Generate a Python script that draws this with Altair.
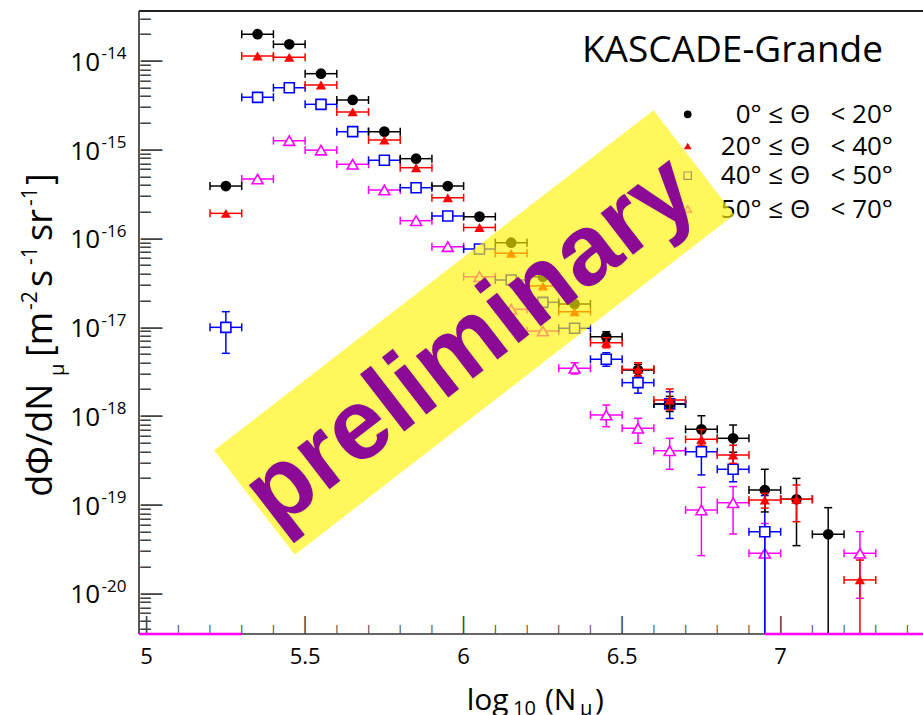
import math
import altair as alt
import pandas as pd

# ---------------- data ----------------
X_BINS = [5.25, 5.35, 5.45, 5.55, 5.65, 5.75, 5.85, 5.95, 6.05, 6.15, 6.25,
          6.35, 6.45, 6.55, 6.65, 6.75, 6.85, 6.95, 7.05, 7.15, 7.25]
HALF_BIN = 0.05

BLACK_Y = [3.98e-16, 2.04e-14, 1.57e-14, 7.33e-15, 3.71e-15, 1.63e-15, 8.09e-16,
           3.98e-16, 1.80e-16, 9.16e-17, 3.79e-17, 1.87e-17, 8.0e-18, 3.37e-18,
           1.40e-18, 7.24e-19, 5.74e-19, 1.50e-19, 1.18e-19, 4.76e-20, None]
BLACK_HI = [None] * 12 + [9.1e-18, 3.9e-18, 1.7e-18, 1.03e-18, 8.1e-19, 2.57e-19,
                          2.03e-19, 9.5e-20, None]
BLACK_LO = [None] * 12 + [7.0e-18, 2.9e-18, 1.15e-18, 5.1e-19, 4.0e-19, 8.5e-20,
                          3.55e-20, 1e-22, None]

RED_Y = [1.96e-16, 1.16e-14, 1.12e-14, 5.47e-15, 2.72e-15, 1.31e-15, 6.40e-16,
         2.94e-16, 1.36e-16, 6.95e-17, 2.98e-17, 1.53e-17, 6.85e-18, 3.43e-18,
         1.55e-18, 5.59e-19, 3.72e-19, 1.16e-19, 1.18e-19, None, 1.46e-20]
RED_HI = [None] * 12 + [7.8e-18, 4.07e-18, 2.06e-18, 7.2e-19, 4.8e-19, 1.38e-19,
                        1.71e-19, None, 2.44e-20]
RED_LO = [None] * 12 + [6.0e-18, 2.9e-18, 1.2e-18, 4.8e-19, 3.0e-19, 9.4e-20,
                        6.6e-20, None, 1e-22]

BLUE_Y = [1.02e-17, 3.97e-15, 5.09e-15, 3.31e-15, 1.63e-15, 7.76e-16, 3.81e-16,
          1.83e-16, 7.78e-17, 3.48e-17, 1.95e-17, 9.95e-18, 4.45e-18, 2.43e-18,
          1.40e-18, 4.05e-19, 2.57e-19, 5.09e-20, None, None, None]
BLUE_HI = [1.53e-17] + [None] * 11 + [5.28e-18, 3.1e-18, 1.92e-18, 7.1e-19, 3.72e-19,
                                      1.3e-19, None, None, None]
BLUE_LO = [5.2e-18] + [None] * 11 + [3.72e-18, 1.85e-18, 9.6e-19, 2.22e-19, 1.86e-19,
                                     1e-22, None, None, None]

MAGENTA_Y = [None, 4.77e-16, 1.29e-15, 1.01e-15, 7.00e-16, 3.59e-16, 1.62e-16,
             8.26e-17, 3.79e-17, 1.63e-17, 9.27e-18, 3.53e-18, 1.05e-18, 7.45e-19,
             4.16e-19, 8.95e-20, 1.08e-19, 2.91e-20, None, None, 2.91e-20]
MAGENTA_HI = [None] * 11 + [4.07e-18, 1.36e-18, 9.64e-19, 5.74e-19, 1.61e-19, 1.64e-19,
                            6.3e-20, None, None, 5.1e-20]
MAGENTA_LO = [None] * 11 + [3.04e-18, 7.76e-19, 5.05e-19, 2.57e-19, 2.74e-20, 4.8e-20,
                            1e-22, None, None, 9.06e-21]

# empty (zero) bins drawn along the lower frame
ZERO_START = [4.976, 6.95]
ZERO_END = [5.30, 7.449]

NB = "\u00a0"
SERIES = [
    # label, y, hi, lo, colour, shape, filled, size
    ("50°" + NB + "≤" + NB + "Θ" + NB * 3 + "<" + NB + "70°", MAGENTA_Y, MAGENTA_HI, MAGENTA_LO,
     "#ff00ff", "triangle-up", False, 120),
    ("40°" + NB + "≤" + NB + "Θ" + NB * 3 + "<" + NB + "50°", BLUE_Y, BLUE_HI, BLUE_LO,
     "#0000ff", "square", False, 100),
    ("0°" + NB + "≤" + NB + "Θ" + NB * 3 + "<" + NB + "20°", BLACK_Y, BLACK_HI, BLACK_LO,
     "#000000", "circle", True, 115),
    ("20°" + NB + "≤" + NB + "Θ" + NB * 3 + "<" + NB + "40°", RED_Y, RED_HI, RED_LO,
     "#ff0000", "triangle-up", True, 105),
]
LEGEND_ORDER = [2, 3, 1, 0]  # indices into SERIES, top to bottom

X_MAJOR = [5.0, 5.5, 6.0, 6.5, 7.0]
X_MAJOR_LABELS = ["5", "5.5", "6", "6.5", "7"]
X_MINOR = [round(5.0 + 0.1 * i, 1) for i in range(0, 25) if round(5.0 + 0.1 * i, 1) not in X_MAJOR]
Y_MAJOR_EXP = [-20, -19, -18, -17, -16, -15, -14]
Y_MINOR_ALL = [k * 10.0 ** e for e in range(-21, -13) for k in range(2, 10)]

# watermark band (centre line, in data coordinates)
BAND = {"x1": 5.3404, "y1": 10 ** -18.964, "x2": 6.7262, "y2": 10 ** -15.135}
WATERMARK_POS = {"x": 6.022, "y": 10 ** -17.16}

# ---------------- layout ----------------
W, H = 784, 623
X_MIN, X_MAX = 4.976, 7.449
Y_MIN, Y_MAX = 10 ** -20.445, 10 ** -13.429
Y_MINOR = [v for v in Y_MINOR_ALL if Y_MIN < v < Y_MAX]
FONT = "Open Sans"
TICK_FONT = "DejaVu Sans"

xs = alt.Scale(domain=[X_MIN, X_MAX], nice=False, zero=False)
ys = alt.Scale(type="log", domain=[Y_MIN, Y_MAX], nice=False)


def X(f):
    return alt.X(f, type="quantitative", scale=xs, axis=None)


def Y(f):
    return alt.Y(f, type="quantitative", scale=ys, axis=None)


def label(text, px, py, size, angle=0, align="left", baseline="alphabetic",
          font=FONT, weight="normal", color="black"):
    return alt.Chart(pd.DataFrame({"t": [text]})).mark_text(
        align=align, baseline=baseline, fontSize=size, font=font, angle=angle,
        color=color, fontWeight=weight
    ).encode(text="t:N", x=alt.value(px), y=alt.value(py))


layers = []

# ---- frame ----
frame = pd.DataFrame({"a": [0]})
layers.append(alt.Chart(frame).mark_rule(color="#555555", strokeWidth=2).encode(
    x=alt.value(0), y=alt.value(0), y2=alt.value(H)))
layers.append(alt.Chart(frame).mark_rule(color="#222222", strokeWidth=2).encode(
    x=alt.value(0), x2=alt.value(W + 5), y=alt.value(0)))
layers.append(alt.Chart(frame).mark_rule(color="#666666", strokeWidth=2).encode(
    x=alt.value(0), x2=alt.value(W + 5), y=alt.value(H)))

# ---- inner ticks (bar / dash glyphs placed through the scales) ----
def xtick_glyphs(vals, size, weight):
    d = pd.DataFrame({"v": vals, "g": ["|"] * len(vals)})
    return alt.Chart(d).mark_text(font=TICK_FONT, fontSize=size, fontWeight=weight, color="#444444",
                                  align="center", baseline="alphabetic").encode(
        x=X("v"), y=alt.value(H - 0.236 * size), text="g:N")


def ytick_glyphs(vals, size, weight):
    d = pd.DataFrame({"v": vals, "g": ["\u2014"] * len(vals)})
    return alt.Chart(d).mark_text(font=TICK_FONT, fontSize=size, fontWeight=weight, color="#444444",
                                  align="left", baseline="alphabetic", dy=0.274 * size).encode(
        y=Y("v"), x=alt.value(0.5), text="g:N")


layers.append(xtick_glyphs(X_MAJOR, 18, "normal"))
layers.append(xtick_glyphs(X_MINOR, 9, "bold"))
layers.append(ytick_glyphs([10.0 ** e for e in Y_MAJOR_EXP], 24, "normal"))
layers.append(ytick_glyphs(Y_MINOR, 12, "bold"))

# ---- tick labels ----
layers.append(alt.Chart(pd.DataFrame({"v": X_MAJOR, "t": X_MAJOR_LABELS})).mark_text(
    fontSize=22, font=FONT, align="center", baseline="alphabetic", color="black").encode(
    x=X("v"), y=alt.value(H + 29.5), text="t:N"))
ydf = pd.DataFrame({"v": [10.0 ** e for e in Y_MAJOR_EXP], "e": [str(e) for e in Y_MAJOR_EXP]})
layers.append(alt.Chart(ydf).mark_text(fontSize=26, font=FONT, align="right", baseline="alphabetic",
                                       dy=9, color="black").encode(
    y=Y("v"), x=alt.value(-39), text=alt.value("10")))
layers.append(alt.Chart(ydf).mark_text(fontSize=17, font=FONT, align="left", baseline="alphabetic",
                                       dy=-2.5, color="black").encode(
    y=Y("v"), x=alt.value(-37.5), text="e:N"))

# ---- axis titles ----
# y title (rotated, reads bottom-to-top); positions are pixel offsets from the plot's top-left
layers.append(label("dΦ/dN", -87, 485.7, 36, angle=270))
layers.append(label("μ", -75, 365, 20, angle=270))
layers.append(label("[m", -87, 346, 36, angle=270))
layers.append(label("-2", -102, 299, 21, angle=270))
layers.append(label("s", -87, 276, 36, angle=270))
layers.append(label("-1", -102, 254, 21, angle=270))
layers.append(label("sr", -87, 230, 36, angle=270))
layers.append(label("-1", -102, 195, 21, angle=270))
layers.append(label("]", -87, 174, 36, angle=270))
# x title
layers.append(label("log", 327.7, 699, 30))
layers.append(label("10", 374, 703.5, 20))
layers.append(label("(N", 406, 699, 30))
layers.append(label("μ", 441, 703.5, 20))
layers.append(label(")", 456, 699, 30))

# ---- data ----
for name, yv, hi, lo, col, shape, filled, size in SERIES:
    rows = []
    for x, y, h, l in zip(X_BINS, yv, hi, lo):
        if y is None:
            continue
        rows.append({"x": x, "y": y, "xlo": x - HALF_BIN, "xhi": x + HALF_BIN,
                     "hi": h if h is not None else y, "lo": l if l is not None else y,
                     "has": h is not None or l is not None})
    df = pd.DataFrame(rows)
    base = alt.Chart(df)
    layers.append(base.mark_rule(color=col, strokeWidth=1.5, clip=True).encode(
        x=X("xlo"), x2=alt.X2("xhi"), y=Y("y")))
    layers.append(base.transform_filter("datum.has").mark_rule(color=col, strokeWidth=1.5, clip=True).encode(
        x=X("x"), y=Y("lo"), y2=alt.Y2("hi")))
    layers.append(base.transform_fold(["xlo", "xhi"], as_=["k", "xc"]).mark_tick(
        orient="vertical", size=8, thickness=1.5, color=col, clip=True, opacity=1).encode(
        x=X("xc"), y=Y("y")))
    layers.append(base.transform_filter("datum.has").transform_fold(["lo", "hi"], as_=["k", "yc"]).mark_tick(
        orient="horizontal", size=8, thickness=1.5, color=col, clip=True, opacity=1).encode(
        x=X("x"), y=Y("yc")))
    if filled:
        mk = base.mark_point(shape=shape, filled=True, color=col, size=size, opacity=1, clip=True)
    else:
        mk = base.mark_point(shape=shape, filled=False, color=col, fill="white", fillOpacity=1,
                             size=size, strokeWidth=1.6, opacity=1, clip=True)
    layers.append(mk.encode(x=X("x"), y=Y("y")))

# ---- zero bins along the bottom ----
zrows = [{"zx": 0.5 * (a + b), "zlo": a, "zhi": b, "zy": Y_MIN} for a, b in zip(ZERO_START, ZERO_END)]
layers.append(alt.Chart(pd.DataFrame(zrows)).mark_rule(color="#ff00ff", strokeWidth=2.5, clip=False).encode(
    x=X("zlo"), x2=alt.X2("zhi"), y=Y("zy")))

# ---- legend ----
layers.append(label("KASCADE-Grande", 744, 50.7, 37, align="right"))
LEG_Y = [103.3, 135, 164.7, 198]
for row, idx in enumerate(LEGEND_ORDER):
    name, _, _, _, col, shape, filled, _ = SERIES[idx]
    d = pd.DataFrame({"a": [0]})
    if filled:
        m = alt.Chart(d).mark_point(shape=shape, filled=True, color=col, size=60, opacity=1)
    else:
        m = alt.Chart(d).mark_point(shape=shape, filled=False, color=col, size=55, strokeWidth=1.2, opacity=1)
    layers.append(m.encode(x=alt.value(548.7), y=alt.value(LEG_Y[row])))
    layers.append(label(name, 754, LEG_Y[row] + 8.5, 26, align="right"))

# ---- watermark ----
bdf = pd.DataFrame([BAND])
layers.append(alt.Chart(bdf).mark_rule(color="#FFF200", strokeWidth=132, opacity=0.64,
                                       strokeCap="butt").encode(
    x=X("x1"), y=Y("y1"), x2=alt.X2("x2"), y2=alt.Y2("y2")))
wdf = pd.DataFrame([WATERMARK_POS])
layers.append(alt.Chart(wdf).mark_text(text="preliminary", font="Liberation Sans", fontWeight="bold",
                                       fontSize=100, angle=322.3, color="#8B0A96",
                                       align="center", baseline="middle").encode(
    x=X("x"), y=Y("y")))

chart = alt.layer(*layers).properties(
    width=W, height=H,
    padding={"left": 139, "top": 11, "right": 0, "bottom": 81},
    autosize=alt.AutoSizeParams(type="none"),
    background="white",
).configure_view(stroke=None)

chart.save("out.html", embed_options={"renderer": "svg", "actions": False})
